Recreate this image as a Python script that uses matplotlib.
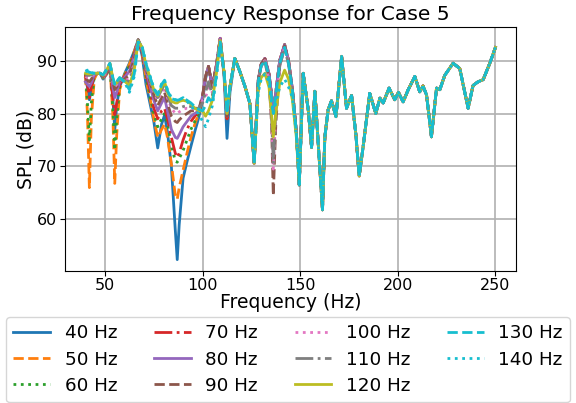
import matplotlib
matplotlib.use("Agg")
import matplotlib.pyplot as plt
import numpy as np

# ---- data (SPL in dB vs frequency in Hz) ----
case_labels = ["40 Hz", "50 Hz", "60 Hz", "70 Hz", "80 Hz", "90 Hz",
               "100 Hz", "110 Hz", "120 Hz", "130 Hz", "140 Hz"]

# low band, every case differs here
freq_a = [40, 41, 42, 43, 44.5, 46, 47.5, 49, 51, 52.5, 54, 55, 56, 57.5, 60,
          62.5, 65, 67, 69, 71, 73, 75, 77, 79, 80.5, 82, 84, 86, 87, 88, 90,
          92, 94, 96, 98, 100, 101.5, 103, 105, 107, 109, 111, 112.5, 114]
spl_a_40 = [86.7, 85.0, 82.6, 84.5, 87.0, 87.6, 87.6, 86.5, 87.5, 89.0, 83.0, 76.9, 81.5, 85.0, 87.5,
            89.5, 91.8, 93.9, 91.0, 85.5, 82.0, 78.5, 73.5, 78.0, 79.7, 76.5, 70.0, 58.0, 52.4, 59.0, 67.8,
            70.9, 73.8, 76.6, 79.2, 82.5, 86.5, 88.9, 85.0, 89.0, 94.2, 87.0, 75.3, 84.0]
spl_a_50 = [87.3, 80.0, 66.0, 79.0, 86.5, 87.6, 87.6, 86.7, 87.6, 89.0, 80.0, 66.8, 76.0, 84.5, 87.3,
            89.3, 91.7, 93.9, 91.2, 86.5, 83.0, 79.0, 75.5, 77.0, 78.0, 75.5, 70.5, 64.5, 63.8, 66.0, 69.3,
            72.5, 75.5, 78.0, 80.0, 83.0, 87.0, 88.9, 85.0, 89.0, 94.2, 87.5, 79.0, 85.0]
spl_a_60 = [87.5, 82.0, 75.0, 82.0, 87.0, 87.6, 87.6, 86.8, 87.7, 89.0, 81.0, 73.1, 79.0, 85.0, 87.2,
            89.0, 91.5, 93.9, 91.5, 87.0, 83.5, 80.0, 77.5, 79.0, 80.0, 78.0, 74.0, 71.0, 70.8, 71.5, 73.0,
            75.0, 77.0, 78.5, 80.0, 83.0, 87.0, 88.9, 85.0, 89.0, 94.2, 87.5, 79.0, 85.0]
spl_a_70 = [87.3, 85.3, 83.0, 85.0, 87.2, 87.6, 87.6, 86.8, 87.8, 89.0, 83.0, 79.8, 82.0, 85.5, 87.0,
            88.5, 91.2, 93.9, 91.7, 87.5, 84.5, 81.0, 79.0, 80.5, 81.0, 79.0, 75.5, 72.5, 71.7, 72.5, 75.0,
            77.0, 78.5, 79.5, 80.3, 83.2, 87.0, 88.9, 85.0, 89.0, 94.2, 87.5, 79.0, 85.0]
spl_a_80 = [86.0, 85.5, 85.1, 85.8, 87.3, 87.6, 87.6, 86.9, 87.9, 89.2, 85.0, 83.0, 84.0, 86.0, 86.8,
            88.0, 90.8, 93.9, 92.0, 88.0, 85.3, 82.5, 80.5, 82.0, 83.0, 80.5, 77.0, 75.5, 75.3, 76.0, 77.5,
            78.5, 79.5, 80.0, 80.5, 83.3, 87.0, 88.9, 85.0, 89.0, 94.2, 87.5, 79.5, 85.0]
spl_a_90 = [86.5, 86.3, 86.0, 86.5, 87.4, 87.6, 87.6, 87.0, 88.0, 89.3, 86.0, 84.5, 85.0, 86.3, 86.5,
            87.3, 90.3, 93.9, 92.2, 88.5, 86.0, 83.5, 81.5, 83.0, 84.0, 82.0, 79.5, 78.5, 78.3, 78.8, 79.5,
            80.0, 80.5, 80.5, 80.7, 83.5, 87.0, 88.9, 85.0, 89.0, 94.2, 87.8, 79.5, 85.0]
spl_a_100 = [87.0, 86.8, 86.8, 87.0, 87.5, 87.6, 87.6, 87.0, 88.1, 89.3, 86.3, 85.0, 85.5, 86.5, 86.3,
             86.5, 89.5, 93.9, 92.3, 88.8, 86.3, 84.0, 82.5, 84.0, 85.0, 83.0, 81.0, 80.0, 80.0, 80.3, 80.8,
             81.0, 81.0, 80.8, 80.8, 82.5, 83.0, 85.0, 84.0, 88.5, 94.0, 87.8, 79.8, 85.0]
spl_a_110 = [87.3, 87.2, 87.2, 87.3, 87.6, 87.6, 87.6, 87.1, 88.2, 89.4, 86.5, 85.2, 85.7, 86.6, 86.2,
             86.0, 89.0, 93.9, 92.4, 89.0, 86.6, 84.3, 83.0, 84.5, 85.5, 83.5, 81.5, 81.0, 81.0, 81.0, 81.3,
             81.5, 81.3, 81.0, 81.0, 82.0, 84.0, 86.0, 83.5, 88.0, 94.0, 87.8, 80.0, 85.0]
spl_a_120 = [87.6, 87.5, 87.5, 87.5, 87.6, 87.6, 87.6, 87.2, 88.3, 89.5, 86.7, 85.5, 85.8, 86.7, 86.1,
             85.3, 88.3, 93.7, 92.5, 89.2, 86.8, 84.5, 83.3, 85.0, 86.0, 84.0, 82.3, 82.0, 82.0, 82.3, 82.5,
             82.3, 81.8, 81.0, 80.5, 80.5, 79.5, 80.5, 82.5, 87.5, 93.8, 87.8, 80.0, 85.0]
spl_a_130 = [87.9, 88.0, 87.8, 87.7, 87.6, 87.6, 87.6, 87.3, 88.4, 89.5, 86.8, 85.5, 86.0, 86.8, 86.0,
             84.5, 87.5, 93.5, 92.6, 89.4, 87.0, 84.7, 83.5, 85.5, 86.3, 84.3, 82.8, 82.6, 82.5, 82.6, 83.0,
             82.5, 82.0, 81.3, 80.8, 80.5, 81.5, 83.0, 82.0, 87.0, 93.5, 87.8, 80.2, 85.0]
spl_a_140 = [88.0, 88.2, 88.0, 87.7, 87.6, 87.6, 87.6, 87.3, 88.4, 89.5, 86.8, 85.4, 86.0, 86.8, 86.0,
             84.0, 87.0, 93.5, 92.7, 89.5, 87.2, 84.8, 83.6, 85.6, 86.3, 84.5, 83.0, 82.6, 82.5, 82.6, 83.0,
             82.3, 81.5, 80.5, 80.0, 78.5, 77.5, 79.0, 81.5, 86.5, 93.3, 87.8, 80.5, 85.0]

# shared stretch
freq_b = [116.5, 119, 121.7, 124.2]
spl_b = [90.4, 88.0, 85.1, 81.9]

# 126-150 Hz, a few cases split off again
freq_c = [126.4, 128.5, 130, 131.9, 134, 135.3, 136.2, 137.5, 139.5, 142, 144, 146, 148, 149.5]
spl_c_main = [70.6, 86.3, 89.3, 90.4, 87.5, 83.5, 80.5, 84.0, 90.0, 93.0, 90.0, 84.5, 76.5, 66.5]
spl_c_90 = [70.6, 86.3, 89.3, 90.3, 86.5, 78.0, 64.5, 78.0, 89.0, 92.8, 89.8, 84.5, 76.5, 66.5]
spl_c_100 = [70.6, 86.0, 89.0, 90.0, 86.0, 79.0, 69.5, 80.0, 89.0, 92.5, 89.5, 84.3, 76.5, 66.5]
spl_c_110 = [70.6, 86.0, 89.0, 89.8, 86.0, 79.5, 70.5, 80.5, 89.0, 92.3, 89.3, 84.2, 76.5, 66.5]
spl_c_120 = [70.6, 84.8, 86.8, 87.6, 85.0, 80.0, 75.6, 80.0, 85.8, 88.2, 86.5, 82.5, 75.5, 66.5]
spl_c_130 = [70.6, 86.0, 89.0, 90.0, 87.0, 83.0, 80.0, 83.5, 89.5, 92.5, 89.5, 84.3, 76.5, 66.5]
spl_c_140 = [70.6, 84.0, 86.5, 87.5, 86.0, 82.0, 80.0, 82.0, 85.0, 86.5, 85.0, 83.0, 76.0, 66.5]

# high band, all cases on top of each other
freq_d = [151.5, 154.1, 155.8, 157.5, 161.4, 162.6, 164.3, 166, 168.3, 171.2,
          173.7, 176.3, 178.5, 180.2, 182.2, 185.6, 188.7, 190.8, 192.5, 195.5,
          198.4, 200.3, 202.7, 205.3, 208.7, 211.2, 212.9, 214.7, 217.2, 219.8,
          221.5, 224, 228.3, 231.7, 236, 238.5, 241.1, 243.7, 247.1, 250]
spl_d = [87.6, 80.7, 73.6, 84.2, 61.8, 75.6, 80.7, 82.4, 79.4, 90.8,
         81.0, 83.4, 76.0, 68.2, 73.7, 83.8, 80.0, 82.9, 82.0, 84.8,
         82.6, 84.0, 82.2, 84.5, 87.0, 84.1, 85.2, 83.5, 75.6, 84.8,
         84.5, 87.2, 89.5, 88.5, 81.0, 85.3, 86.0, 86.4, 89.5, 92.5]

low_parts = [spl_a_40, spl_a_50, spl_a_60, spl_a_70, spl_a_80, spl_a_90,
             spl_a_100, spl_a_110, spl_a_120, spl_a_130, spl_a_140]
mid_parts = [spl_c_main, spl_c_main, spl_c_main, spl_c_main, spl_c_main, spl_c_90,
             spl_c_100, spl_c_110, spl_c_120, spl_c_130, spl_c_140]

colors = ["tab:blue", "tab:orange", "tab:green", "tab:red", "tab:purple", "tab:brown",
          "tab:pink", "tab:gray", "tab:olive", "tab:cyan", "tab:cyan"]
styles = ["-", "--", ":", "-."]

fig = plt.figure(figsize=(5.76, 4.03), dpi=100)
ax = fig.add_axes([0.1128, 0.3283, 0.783, 0.604])

freq = np.concatenate([freq_a, freq_b, freq_c, freq_d])
for i, label in enumerate(case_labels):
    spl = np.concatenate([low_parts[i], spl_b, mid_parts[i], spl_d])
    ax.plot(freq, spl, color=colors[i], linestyle=styles[i % 4], linewidth=2, label=label)

ax.set_title("Frequency Response for Case 5", fontsize=14.6, pad=5)
ax.set_xlabel("Frequency (Hz)", fontsize=13.5, labelpad=0)
ax.set_ylabel("SPL (dB)", fontsize=13.5, labelpad=1)
ax.tick_params(labelsize=11.5, pad=2)
ax.set_xticks([50, 100, 150, 200, 250])
ax.set_yticks([60, 70, 80, 90])
ax.grid(True, linewidth=1.2)

fig.legend(loc="upper center", bbox_to_anchor=(0.5, 0.236), ncol=4, fontsize=13.2,
           labelspacing=0.45)

fig.savefig("out.png", dpi=100)
